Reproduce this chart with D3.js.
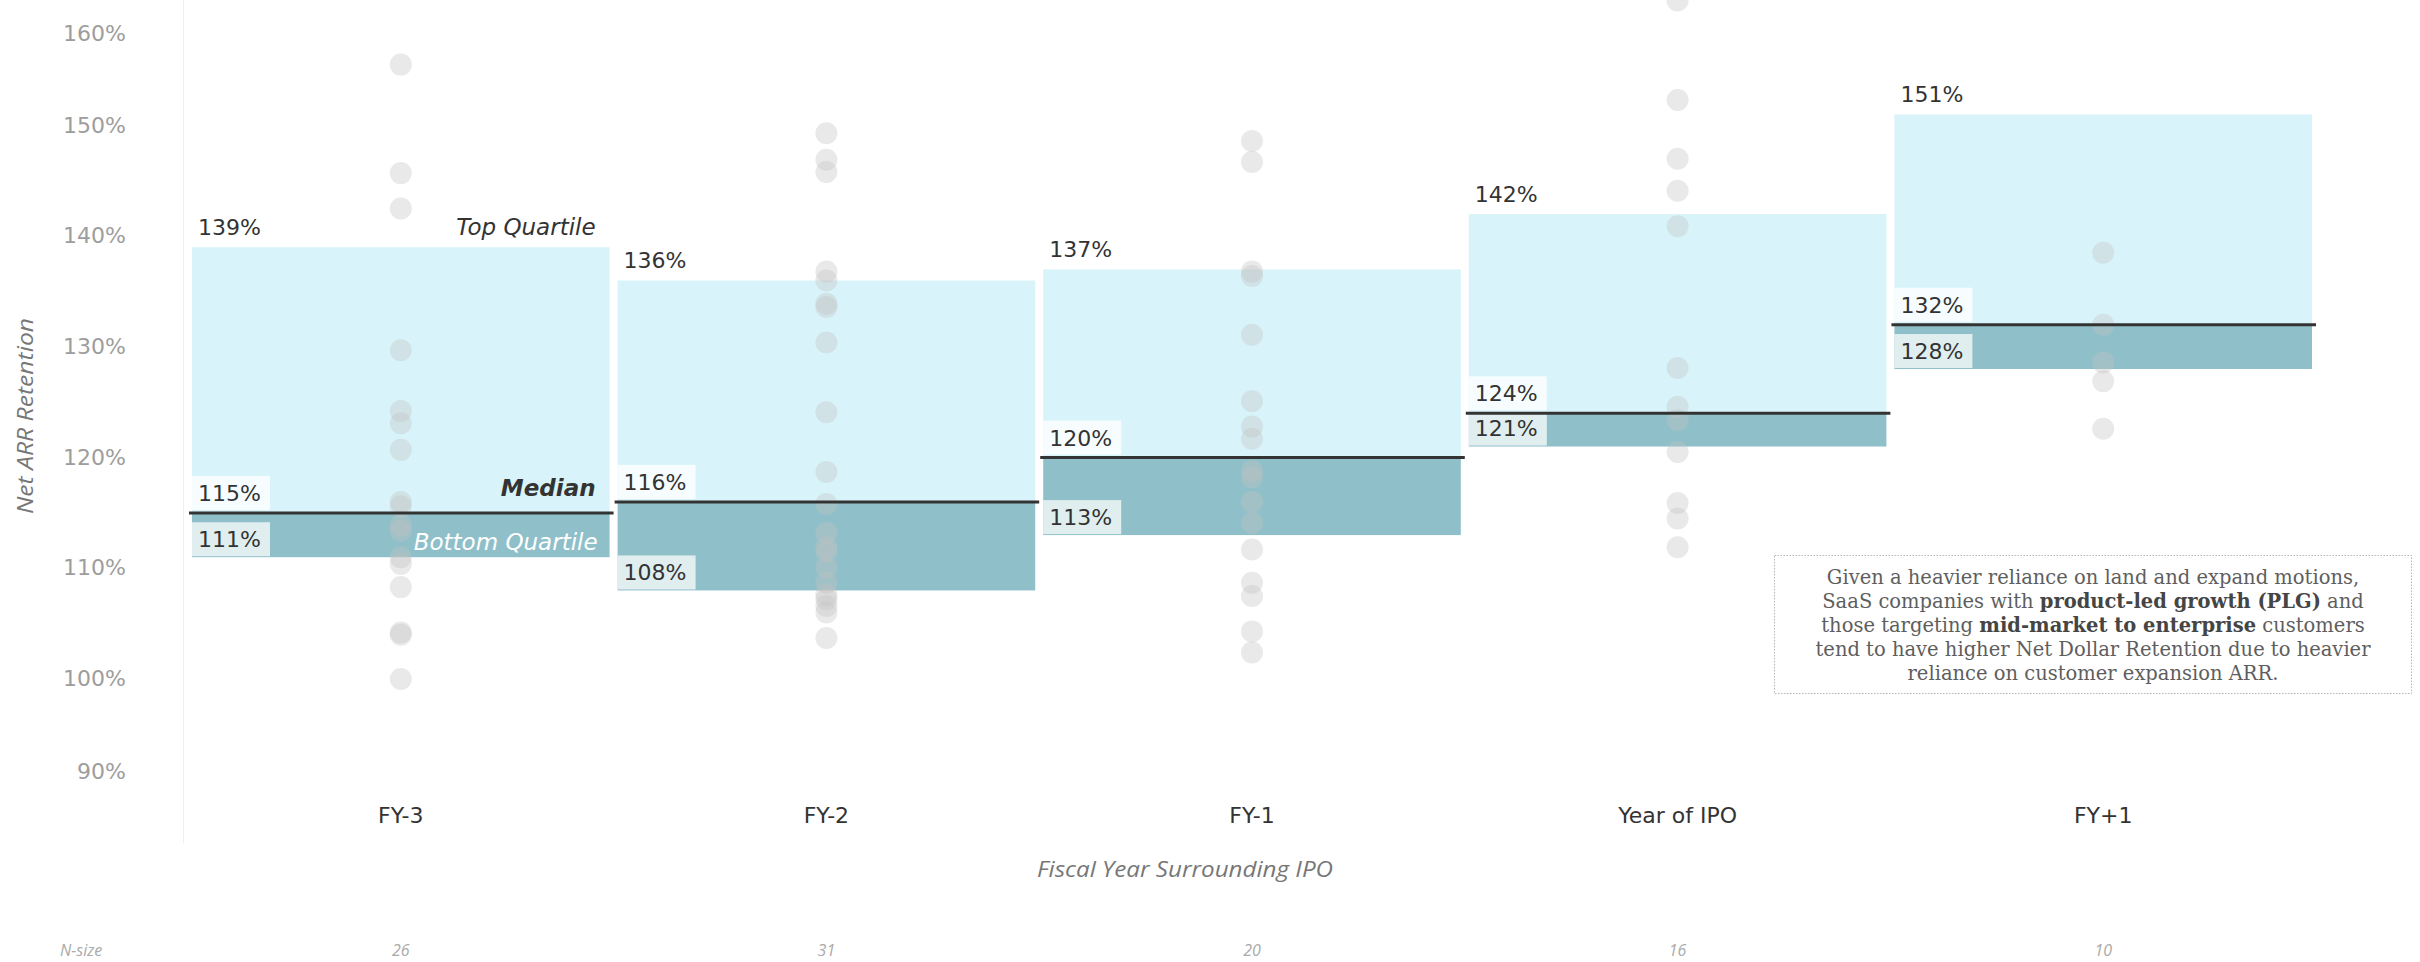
<!DOCTYPE html>
<html>
<head>
<meta charset="utf-8">
<script src="https://cdn.jsdelivr.net/npm/d3@7"></script>
<style>
  html, body { margin: 0; padding: 0; background: #ffffff; }
  svg { display: block; }
</style>
</head>
<body>
<svg id="chart" width="2420" height="962"></svg>
<script>
// Fiscal-year buckets around the IPO
const categories = ["FY-3", "FY-2", "FY-1", "Year of IPO", "FY+1"];

// Quartile bands and medians of Net ARR Retention (%)
const topQuartile    = [139, 136, 137, 142, 151];
const medianValues   = [115, 116, 120, 124, 132];
const bottomQuartile = [111, 108, 113, 121, 128];

// Number of companies in each bucket
const nSize = [26, 31, 20, 16, 10];

// Individual company retention values (%)
const fy3Values  = [155.5, 145.7, 142.5, 129.7, 124.2, 123.1, 120.7, 116.0, 115.6, 113.9, 113.4, 111.0, 110.4, 108.3, 104.2, 104.0, 100.0];
const fy2Values  = [149.3, 146.9, 145.8, 136.8, 136.0, 133.9, 133.6, 130.4, 124.1, 118.7, 115.8, 113.2, 111.9, 111.5, 110.1, 108.7, 107.6, 107.2, 106.6, 106.0, 103.7];
const fy1Values  = [148.6, 146.7, 136.8, 136.4, 131.1, 125.1, 122.8, 121.7, 118.8, 118.2, 116.0, 114.1, 111.7, 108.7, 107.5, 104.3, 102.4];
const ipoValues  = [161.3, 152.3, 147.0, 144.1, 140.9, 128.1, 124.6, 123.4, 120.5, 115.9, 114.5, 111.9];
const fyp1Values = [138.5, 132.0, 128.6, 126.9, 122.6];
const companyValues = [fy3Values, fy2Values, fy1Values, ipoValues, fyp1Values];

// Axis ticks
const yTicks = [90, 100, 110, 120, 130, 140, 150, 160];

const svg = d3.select("#chart");

const x = d3.scaleBand().domain(categories).range([188, 2316]).padding(0);
const y = d3.scaleLinear().domain([90, 160]).range([789.7, 14.8]);

const fmt = d => d + "%";
const rows = categories.map((c, i) => ({
  cat: c, top: topQuartile[i], med: medianValues[i], bot: bottomQuartile[i], n: nSize[i]
}));

// pane edge
svg.append("line")
  .attr("x1", 183.5).attr("x2", 183.5).attr("y1", 0).attr("y2", 843)
  .attr("stroke", "#f0f0f0").attr("stroke-width", 1);

// quartile bands
const inset = 4;
const bands = svg.append("g");
bands.selectAll("rect.upper").data(rows).join("rect")
  .attr("class", "upper")
  .attr("x", d => x(d.cat) + inset)
  .attr("width", x.bandwidth() - 2 * inset)
  .attr("y", d => y(d.top))
  .attr("height", d => y(d.med) - y(d.top))
  .attr("fill", "#d8f4fa");
bands.selectAll("rect.lower").data(rows).join("rect")
  .attr("class", "lower")
  .attr("x", d => x(d.cat) + inset)
  .attr("width", x.bandwidth() - 2 * inset)
  .attr("y", d => y(d.med))
  .attr("height", d => y(d.bot) - y(d.med))
  .attr("fill", "#8fc0c9");

// company dots
const dotData = [];
categories.forEach((c, i) => companyValues[i].forEach(v => dotData.push({ cat: c, v })));
svg.append("g").selectAll("circle").data(dotData).join("circle")
  .attr("cx", d => x(d.cat) + x.bandwidth() / 2)
  .attr("cy", d => y(d.v))
  .attr("r", 11)
  .attr("fill", "#c2c2c2")
  .attr("fill-opacity", 0.36);

// label backgrounds
const boxW = 78, boxH = 34;
const labels = svg.append("g");
labels.selectAll("rect.medbox").data(rows).join("rect")
  .attr("x", d => x(d.cat) + inset)
  .attr("y", d => y(d.med) - 3 - boxH)
  .attr("width", boxW).attr("height", boxH)
  .attr("fill", "#ffffff").attr("fill-opacity", 0.8);
labels.selectAll("rect.botbox").data(rows).join("rect")
  .attr("x", d => x(d.cat) + inset)
  .attr("y", d => y(d.bot) - 1 - boxH)
  .attr("width", boxW).attr("height", boxH)
  .attr("fill", "#ffffff").attr("fill-opacity", 0.72);

// median lines
svg.append("g").selectAll("line").data(rows).join("line")
  .attr("x1", d => x(d.cat) + 1)
  .attr("x2", d => x(d.cat) + x.bandwidth())
  .attr("y1", d => y(d.med)).attr("y2", d => y(d.med))
  .attr("stroke", "#333333").attr("stroke-width", 3);

// value labels
const valueFont = "'DejaVu Sans', Verdana, sans-serif";
const addValue = (key, yFn) => labels.selectAll("text." + key).data(rows).join("text")
  .attr("x", d => x(d.cat) + inset + 6)
  .attr("y", yFn)
  .attr("dy", "0.36em")
  .attr("font-family", valueFont)
  .attr("font-size", 22)
  .attr("fill", "#333333")
  .text(d => fmt(d[key]));
addValue("top", d => y(d.top) - 20);
addValue("med", d => y(d.med) - 3 - boxH / 2);
addValue("bot", d => y(d.bot) - 1 - boxH / 2);

// band captions on the first column
const first = rows[0];
const capX = x(first.cat) + x.bandwidth() - 18;
svg.append("text").attr("x", capX).attr("y", y(first.top) - 21).attr("dy", "0.36em")
  .attr("text-anchor", "end").attr("font-family", valueFont).attr("font-style", "italic")
  .attr("font-size", 23).attr("fill", "#333333").text("Top Quartile");
svg.append("text").attr("x", capX).attr("y", y(first.med) - 25).attr("dy", "0.36em")
  .attr("text-anchor", "end").attr("font-family", valueFont).attr("font-style", "italic")
  .attr("font-weight", "bold").attr("font-size", 23).attr("fill", "#333333").text("Median");
svg.append("text").attr("x", capX + 2).attr("y", y(first.bot) - 16).attr("dy", "0.36em")
  .attr("text-anchor", "end").attr("font-family", valueFont).attr("font-style", "italic")
  .attr("font-size", 23).attr("fill", "#ffffff").text("Bottom Quartile");

// y axis
const yAxis = svg.append("g").attr("transform", "translate(126,0)")
  .call(d3.axisLeft(y).tickValues(yTicks).tickFormat(fmt).tickSize(0).tickPadding(0));
yAxis.select(".domain").remove();
yAxis.selectAll(".tick")
  .attr("transform", d => `translate(0,${Math.min(772, Math.max(34, y(d)))})`);
yAxis.selectAll("text")
  .attr("font-family", valueFont).attr("font-size", 22).attr("fill", "#9d9d9d");

svg.append("text")
  .attr("transform", "translate(33,416) rotate(-90)")
  .attr("text-anchor", "middle")
  .attr("font-family", "'Open Sans', sans-serif").attr("font-style", "italic")
  .attr("font-size", 22).attr("fill", "#777777")
  .attr("textLength", 196).attr("lengthAdjust", "spacingAndGlyphs")
  .text("Net ARR Retention");

// x axis
const xAxis = svg.append("g").attr("transform", "translate(0,803)")
  .call(d3.axisBottom(x).tickSize(0).tickPadding(0));
xAxis.select(".domain").remove();
xAxis.selectAll("text")
  .attr("y", 12).attr("dy", "0.36em")
  .attr("font-family", valueFont).attr("font-size", 22).attr("fill", "#333333");

svg.append("text")
  .attr("x", 1185).attr("y", 869).attr("dy", "0.36em")
  .attr("text-anchor", "middle")
  .attr("font-family", "'Open Sans', sans-serif").attr("font-style", "italic")
  .attr("font-size", 22).attr("fill", "#777777")
  .attr("textLength", 296).attr("lengthAdjust", "spacingAndGlyphs")
  .text("Fiscal Year Surrounding IPO");

// sample sizes
svg.append("text")
  .attr("x", 60).attr("y", 950).attr("dy", "0.36em")
  .attr("font-family", "'Open Sans', sans-serif").attr("font-style", "italic")
  .attr("font-size", 16).attr("fill", "#aaaaaa")
  .text("N-size");
svg.append("g").selectAll("text").data(rows).join("text")
  .attr("x", d => x(d.cat) + x.bandwidth() / 2)
  .attr("y", 950).attr("dy", "0.36em")
  .attr("text-anchor", "middle")
  .attr("font-family", "'Open Sans', sans-serif").attr("font-style", "italic")
  .attr("font-size", 16).attr("fill", "#aaaaaa")
  .text(d => d.n);

// commentary box
const note = svg.append("g");
note.append("rect")
  .attr("x", 1774.5).attr("y", 555.5).attr("width", 637).attr("height", 138)
  .attr("fill", "#ffffff").attr("stroke", "#b5b5b5").attr("stroke-width", 1)
  .attr("stroke-dasharray", "1.5,1.5");
const noteLines = [
  [["Given a heavier reliance on land and expand motions,", false]],
  [["SaaS companies with ", false], ["product-led growth (PLG)", true], [" and", false]],
  [["those targeting ", false], ["mid-market to enterprise", true], [" customers", false]],
  [["tend to have higher Net Dollar Retention due to heavier", false]],
  [["reliance on customer expansion ARR.", false]]
];
noteLines.forEach((line, i) => {
  const t = note.append("text")
    .attr("x", 2093).attr("y", 577 + i * 24).attr("dy", "0.35em")
    .attr("text-anchor", "middle")
    .attr("font-family", "'DejaVu Serif', 'Liberation Serif', serif")
    .attr("font-size", 19.5).attr("fill", "#5e5e5e");
  line.forEach(seg => {
    const s = t.append("tspan").text(seg[0]);
    if (seg[1]) s.attr("font-weight", "bold").attr("fill", "#454545");
  });
});
</script>
</body>
</html>
